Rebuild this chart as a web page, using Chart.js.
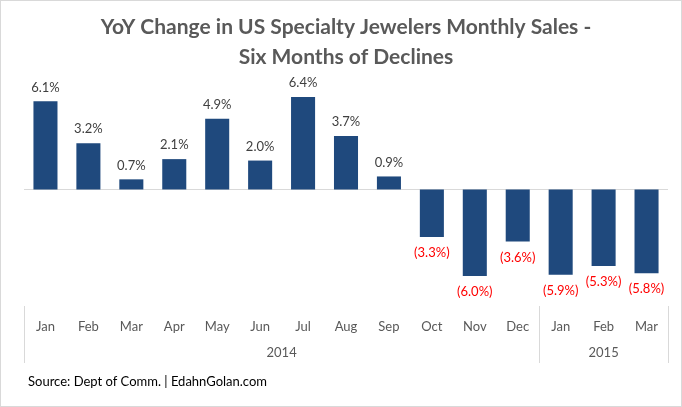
<!DOCTYPE html>
<html>
<head>
<meta charset="utf-8">
<script src="https://cdn.jsdelivr.net/npm/chart.js@4.4.1/dist/chart.umd.min.js"></script>
<style>
  html, body { margin: 0; padding: 0; background: #fff; }
  #wrap { width: 682px; height: 407px; border: 1px solid #d9d9d9; box-sizing: border-box; }
  canvas { display: block; }
</style>
</head>
<body>
<div id="wrap"><canvas id="salesChart" width="680" height="405"></canvas></div>
<script>
// data
const months = ['Jan', 'Feb', 'Mar', 'Apr', 'May', 'Jun', 'Jul', 'Aug', 'Sep', 'Oct', 'Nov', 'Dec', 'Jan', 'Feb', 'Mar'];
const yoyChange = [6.1, 3.2, 0.7, 2.1, 4.9, 2.0, 6.4, 3.7, 0.9, -3.3, -6.0, -3.6, -5.9, -5.3, -5.8];
const years = ['2014', '2015'];
const monthsPerYear = [12, 3];

const FONT = 'Lato, "Open Sans", sans-serif';

// zero line, data labels, year row and source line
const extras = {
    id: 'extras',
    beforeDatasetsDraw(chart) {
        const ctx = chart.ctx;
        const area = chart.chartArea;
        const y0 = Math.round(chart.scales.y.getPixelForValue(0)) + 0.5;
        ctx.save();
        ctx.strokeStyle = '#d9d9d9';
        ctx.lineWidth = 1;
        ctx.beginPath();
        ctx.moveTo(area.left, y0);
        ctx.lineTo(area.right, y0);
        ctx.stroke();
        ctx.restore();
    },
    afterDatasetsDraw(chart) {
        const ctx = chart.ctx;
        const x = chart.scales.x;
        const area = chart.chartArea;

        ctx.save();
        // value labels
        ctx.font = '13px ' + FONT;
        ctx.textAlign = 'center';
        ctx.textBaseline = 'middle';
        chart.getDatasetMeta(0).data.forEach((bar, i) => {
            const v = yoyChange[i];
            if (v >= 0) {
                ctx.fillStyle = '#404040';
                ctx.fillText(v.toFixed(1) + '%', bar.x, bar.y - 14);
            } else {
                ctx.fillStyle = '#ff0000';
                ctx.fillText('(' + Math.abs(v).toFixed(1) + '%)', bar.x, bar.y + 16);
            }
        });

        // year groups with separators
        const half = (x.getPixelForValue(1) - x.getPixelForValue(0)) / 2;
        const top = area.bottom + 1;
        const bottom = area.bottom + 58;
        ctx.strokeStyle = '#d9d9d9';
        ctx.lineWidth = 1;
        let start = 0;
        const edges = [x.getPixelForValue(0) - half];
        years.forEach((yr, k) => {
            const end = start + monthsPerYear[k] - 1;
            const left = x.getPixelForValue(start) - half;
            const right = x.getPixelForValue(end) + half;
            edges.push(right);
            ctx.fillStyle = '#595959';
            ctx.fillText(yr, (left + right) / 2, area.bottom + 48);
            start = end + 1;
        });
        edges.forEach(e => {
            const px = Math.round(e) + 0.5;
            ctx.beginPath();
            ctx.moveTo(px, top);
            ctx.lineTo(px, bottom);
            ctx.stroke();
        });

        // source
        ctx.textAlign = 'left';
        ctx.fillStyle = '#000';
        ctx.fillText('Source: Dept of Comm. | EdahnGolan.com', 27, 381);
        ctx.restore();
    }
};

new Chart(document.getElementById('salesChart'), {
    type: 'bar',
    data: {
        labels: months,
        datasets: [{
            data: yoyChange,
            backgroundColor: '#1f497d',
            barPercentage: 0.56,
            categoryPercentage: 1.0
        }]
    },
    options: {
        responsive: false,
        animation: false,
        layout: { padding: { left: 23, right: 13, top: 0, bottom: 41 } },
        plugins: {
            legend: { display: false },
            tooltip: { enabled: false },
            title: {
                display: true,
                text: ['YoY Change in US Specialty Jewelers Monthly Sales -', 'Six Months of Declines'],
                color: '#595959',
                font: { family: FONT, size: 21, weight: 'bold', lineHeight: 1.45 },
                padding: { top: 11, bottom: 1 }
            }
        },
        scales: {
            x: {
                grid: { display: false, drawTicks: false },
                border: { display: false },
                ticks: {
                    color: '#595959',
                    font: { family: FONT, size: 13 },
                    padding: 14,
                    maxRotation: 0,
                    autoSkip: false
                },
                afterFit(scale) { scale.height = 60; }
            },
            y: {
                display: false,
                min: -8,
                max: 8
            }
        }
    },
    plugins: [extras]
});
</script>
</body>
</html>
